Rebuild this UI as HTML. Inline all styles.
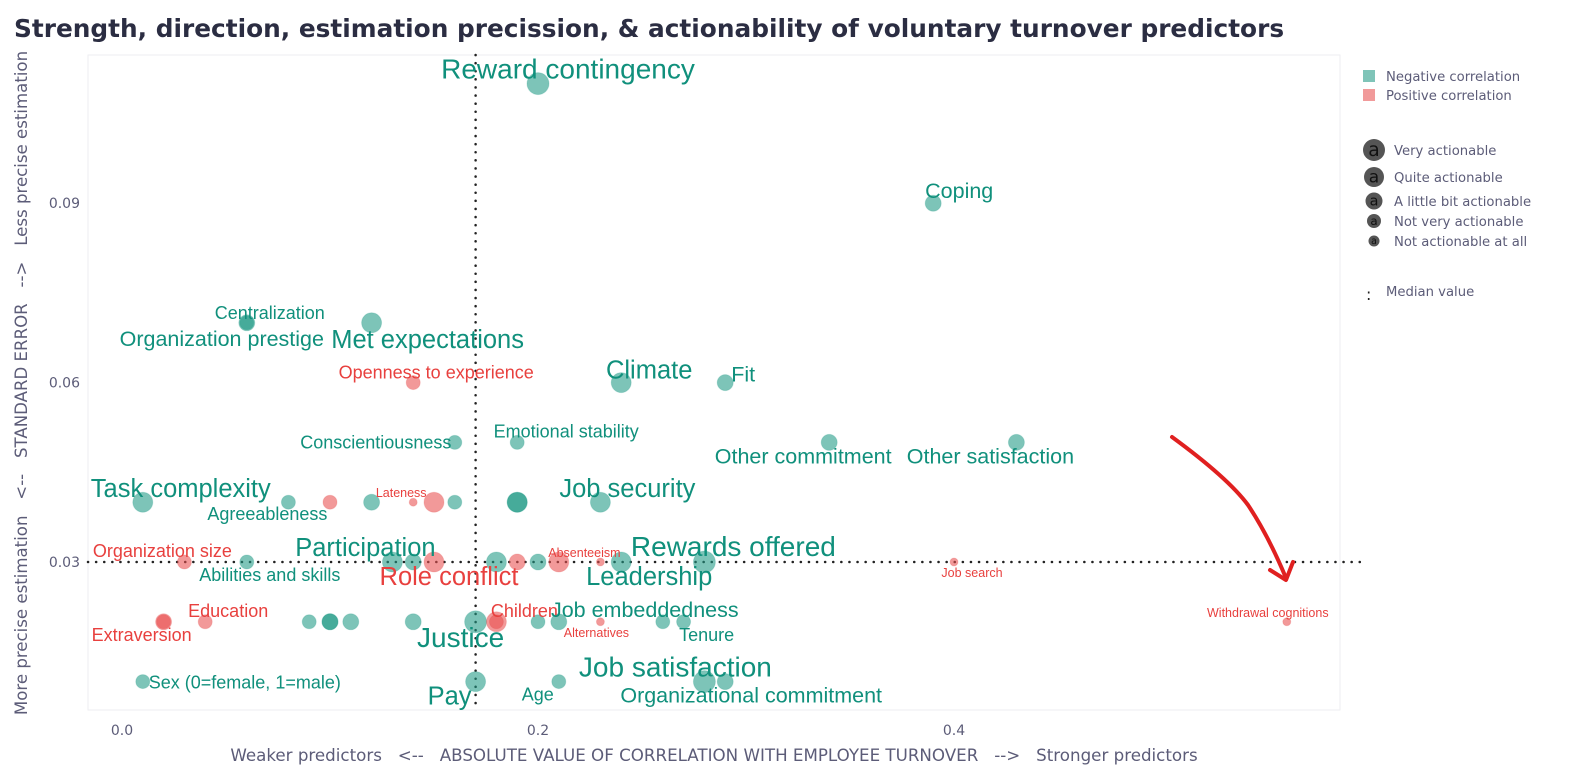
<!DOCTYPE html>
<html><head><meta charset="utf-8"><style>
body{margin:0;background:#fff;width:1577px;height:775px;overflow:hidden;font-family:"Liberation Sans","DejaVu Sans",sans-serif}
</style></head><body>
<svg id="chart" width="1577" height="775" xmlns="http://www.w3.org/2000/svg">
<text x="14" y="37" font-family="DejaVu Sans, sans-serif" font-weight="bold" font-size="24.8" fill="#2b2d42">Strength, direction, estimation precission, &amp; actionability of voluntary turnover predictors</text>
<rect x="88" y="55" width="1252" height="655" fill="#fff" stroke="#eeeef2" stroke-width="1"/>
<g id="axes"></g>
<g id="medians"></g>
<g id="points"></g>
<g id="labels"></g>
<path d="M1172,437 Q1228,478 1248,505 Q1268,535 1286,578" fill="none" stroke="#e02020" stroke-width="4" stroke-linecap="round"/>
<path d="M1270,570 L1286,580 L1293,562" fill="none" stroke="#e02020" stroke-width="4" stroke-linecap="round" stroke-linejoin="round"/>
<text transform="translate(27,383) rotate(-90)" text-anchor="middle" font-family="DejaVu Sans, sans-serif" font-size="16.6" fill="#5c5c78" xml:space="preserve">More precise estimation   &lt;--   STANDARD ERROR   --&gt;   Less precise estimation</text>
<text x="714" y="761" text-anchor="middle" font-family="DejaVu Sans, sans-serif" font-size="16.7" fill="#5c5c78" xml:space="preserve">Weaker predictors   &lt;--   ABSOLUTE VALUE OF CORRELATION WITH EMPLOYEE TURNOVER   --&gt;   Stronger predictors</text>
<g font-family="DejaVu Sans, sans-serif" font-size="13.2" fill="#5c5c78">
<rect x="1363" y="70" width="12" height="12" fill="#7fc4b8"/>
<text x="1386" y="81">Negative correlation</text>
<rect x="1363" y="89" width="12" height="12" fill="#f19a9a"/>
<text x="1386" y="100">Positive correlation</text>
<g id="sizeLegend"></g>
<text x="1366" y="300" font-size="16" fill="#222">:</text>
<text x="1386" y="296">Median value</text>
</g>
</svg>
<script>
const names=["Reward contingency","Coping","Centralization","Organization prestige","Met expectations","Openness to experience","Climate","Fit","Conscientiousness","Emotional stability","Other commitment","Other satisfaction","Task complexity","Agreeableness","","","Lateness","","","","","Job security","Organization size","Abilities and skills","Participation","","Role conflict","","","","","Absenteeism","Leadership","Rewards offered","Job search","Extraversion","","Education","","","","","","Justice","","Children","","Job embeddedness","Alternatives","","Tenure","Withdrawal cognitions","Sex (0=female, 1=male)","Pay","Age","Job satisfaction","Organizational commitment"];
const absCorr=[0.20,0.39,0.06,0.06,0.12,0.14,0.24,0.29,0.16,0.19,0.34,0.43,0.01,0.08,0.10,0.12,0.14,0.15,0.16,0.19,0.19,0.23,0.03,0.06,0.13,0.14,0.15,0.18,0.19,0.20,0.21,0.23,0.24,0.28,0.40,0.02,0.02,0.04,0.09,0.10,0.10,0.11,0.14,0.17,0.18,0.18,0.20,0.21,0.23,0.26,0.27,0.56,0.01,0.17,0.21,0.28,0.29];
const stdErr=[0.11,0.09,0.07,0.07,0.07,0.06,0.06,0.06,0.05,0.05,0.05,0.05,0.04,0.04,0.04,0.04,0.04,0.04,0.04,0.04,0.04,0.04,0.03,0.03,0.03,0.03,0.03,0.03,0.03,0.03,0.03,0.03,0.03,0.03,0.03,0.02,0.02,0.02,0.02,0.02,0.02,0.02,0.02,0.02,0.02,0.02,0.02,0.02,0.02,0.02,0.02,0.02,0.01,0.01,0.01,0.01,0.01];
const direction=["N","N","N","N","N","P","N","N","N","N","N","N","N","N","P","N","P","P","N","N","N","N","P","N","N","N","P","N","P","N","P","P","N","N","P","P","P","P","N","N","N","N","N","N","P","P","N","N","P","N","N","P","N","N","N","N","N"];
const actionability=[5,3,2,3,4,2,4,3,2,2,3,3,4,2,2,3,1,4,2,4,4,4,2,2,4,3,4,4,3,3,4,1,4,5,1,2,3,2,2,3,3,3,3,5,4,2,2,3,1,2,2,1,2,4,2,5,3];
const medianX=[0.17];
const medianY=[0.03];
const xTicks=[0.0,0.2,0.4];
const xTickLabels=["0.0","0.2","0.4"];
const yTicks=[0.03,0.06,0.09];
const yTickLabels=["0.03","0.06","0.09"];
// label layout offsets (pixels, styling only)
const labelDx={"Reward contingency":30,"Coping":26,"Centralization":23,"Organization prestige":-25,"Met expectations":56,"Openness to experience":23,"Climate":28,"Fit":18,"Conscientiousness":-79,"Emotional stability":49,"Other commitment":-26,"Other satisfaction":-26,"Task complexity":38,"Agreeableness":-21,"Lateness":-12,"Job security":27,"Organization size":-22,"Abilities and skills":23,"Participation":-27,"Role conflict":15,"Absenteeism":-16,"Leadership":28,"Rewards offered":29,"Job search":18,"Extraversion":-22,"Education":23,"Justice":-15,"Children":28,"Job embeddedness":86,"Alternatives":-4,"Tenure":23,"Withdrawal cognitions":-19,"Sex (0=female, 1=male)":102,"Pay":-26,"Age":-21,"Job satisfaction":-29,"Organizational commitment":26};
const labelDy={"Reward contingency":-5,"Coping":-5,"Centralization":-4,"Organization prestige":23,"Met expectations":25,"Openness to experience":-4,"Climate":-4,"Fit":-1,"Conscientiousness":6,"Emotional stability":-5,"Other commitment":21,"Other satisfaction":21,"Task complexity":-5,"Agreeableness":18,"Lateness":-5,"Job security":-5,"Organization size":-5,"Abilities and skills":19,"Participation":-6,"Role conflict":23,"Absenteeism":-5,"Leadership":23,"Rewards offered":-6,"Job search":15,"Extraversion":19,"Education":-5,"Justice":25,"Children":-5,"Job embeddedness":-5,"Alternatives":15,"Tenure":19,"Withdrawal cognitions":-5,"Sex (0=female, 1=male)":7,"Pay":23,"Age":19,"Job satisfaction":-5,"Organizational commitment":21};
const radius=[0,4,7,8,10,11];
const fontSize=[0,12.5,18,21.5,25.5,28];
const NS="http://www.w3.org/2000/svg";
const X0=88,X1=1340,Y0=55,Y1=710;
function xs(v){return 122+v*2080;}
function ys(v){return 562-(v-0.03)*5980;}
function mk(tag,attrs,parent){const e=document.createElementNS(NS,tag);for(const k in attrs)e.setAttribute(k,attrs[k]);parent.appendChild(e);return e;}
const axes=document.getElementById('axes');
xTicks.forEach((t,i)=>{const e=mk('text',{x:xs(t),y:735,'text-anchor':'middle','font-family':'DejaVu Sans, sans-serif','font-size':14,fill:'#5c5c78'},axes);


e.textContent=xTickLabels[i];});
yTicks.forEach((t,i)=>{const e=mk('text',{x:80,y:ys(t)+5,'text-anchor':'end','font-family':'DejaVu Sans, sans-serif','font-size':14,fill:'#5c5c78'},axes);


e.textContent=yTickLabels[i];});
const med=document.getElementById('medians');
const mv=mk('line',{x1:xs(medianX[0]),x2:xs(medianX[0]),y1:Y0,y2:Y1,stroke:'#222','stroke-width':2.5,'stroke-dasharray':'0.1 8','stroke-linecap':'round'},med);


const mh=mk('line',{x1:X0,x2:X1+20,y1:ys(medianY[0]),y2:ys(medianY[0]),stroke:'#222','stroke-width':2.5,'stroke-dasharray':'0.1 8','stroke-linecap':'round'},med);


const pts=document.getElementById('points'),lbs=document.getElementById('labels');
names.forEach((n,i)=>{
 const cx=xs(absCorr[i]),cy=ys(stdErr[i]),neg=direction[i]==="N";
 const c=mk('circle',{cx:cx,cy:cy,r:radius[actionability[i]],fill:neg?'#1f9985':'#e8504f','fill-opacity':0.58,stroke:neg?'#1f9985':'#e8504f','stroke-opacity':0.2},pts);
 
 
 if(n){
  const t=mk('text',{x:cx+(labelDx[n]||0),y:cy+(labelDy[n]||0),'text-anchor':'middle','font-size':fontSize[actionability[i]],fill:neg?'#10907c':'#e8403e'},lbs);
  
  
  t.textContent=n;
 }
});
const sl=document.getElementById('sizeLegend');
const sizeLabels=["Very actionable","Quite actionable","A little bit actionable","Not very actionable","Not actionable at all"];
const sizeY=[150,177,201,221,241],sizeR=[11,10,8.5,7,5.5];
sizeLabels.forEach((s,i)=>{
 const c=mk('circle',{cx:1374,cy:sizeY[i],r:sizeR[i],fill:'#555'},sl);
 
 
 const a=mk('text',{x:1374,y:sizeY[i]+sizeR[i]*0.55,'text-anchor':'middle','font-size':sizeR[i]*1.7,fill:'#111'},sl);
 
 
 a.textContent='a';
 const t=mk('text',{x:1394,y:sizeY[i]+5},sl);
 
 
 t.textContent=s;
});
</script>
</body></html>
